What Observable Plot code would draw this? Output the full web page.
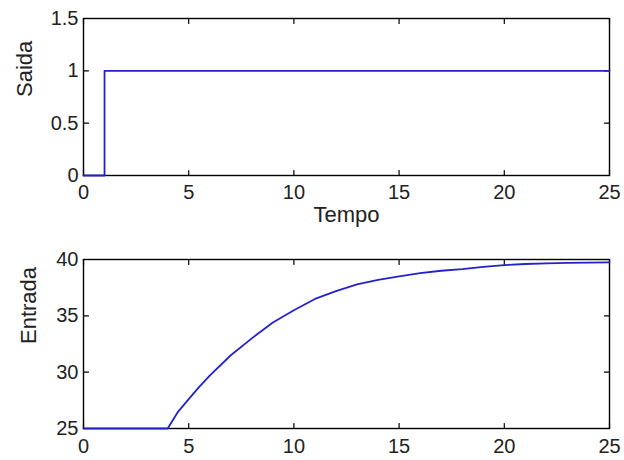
<!DOCTYPE html>
<html>
<head>
<meta charset="utf-8">
<script src="https://cdn.jsdelivr.net/npm/d3@7"></script>
<script src="https://cdn.jsdelivr.net/npm/@observablehq/plot@0.6"></script>
<style>
  html, body { margin: 0; padding: 0; background: #fff; }
  svg { display: block; }
</style>
</head>
<body>
<div id="chart"></div>
<script>
// ---- data ----
const xTicks = [0, 5, 10, 15, 20, 25];
const xTickLabels = ["0", "5", "10", "15", "20", "25"];

const saidaT = [0, 1, 1, 25];
const saidaV = [0, 0, 1, 1];
const saidaTicks = [0, 0.5, 1, 1.5];
const saidaTickLabels = ["0", "0.5", "1", "1.5"];

const entradaT = [0, 4, 4.5, 5, 5.5, 6, 7, 8, 9, 10, 11, 12, 13, 14, 15, 16, 17, 18, 19, 20, 21, 22, 23, 24, 25];
const entradaV = [25, 25, 26.5, 27.6, 28.7, 29.7, 31.5, 33.0, 34.4, 35.5, 36.5, 37.2, 37.8, 38.2, 38.5, 38.8, 39.0, 39.15, 39.35, 39.5, 39.6, 39.65, 39.7, 39.72, 39.75];
const entradaTicks = [25, 30, 35, 40];
const entradaTickLabels = ["25", "30", "35", "40"];

// ---- style ----
const FONT = "'Liberation Sans', Arial, Helvetica, sans-serif";
const LINE = "#2222cc";
const tickShape = { draw(ctx, l) { ctx.moveTo(0, 0); ctx.lineTo(0, -l); } };

function fmt(ticks, labels) {
  return d => labels[ticks.indexOf(d)] ?? String(d);
}

function panel({T, V, yDomain, yTicks, yLabels, yLabel, labelDx, xLabel, height, mt, mb, xPad}) {
  const yMin = yDomain[0], yMax = yDomain[1];
  const marks = [
    Plot.frame({stroke: "black", strokeWidth: 1.4}),
    // inward ticks
    Plot.vector(xTicks, {x: d => d, y: yMin, length: 5, rotate: 0, anchor: "start", shape: tickShape, stroke: "black", strokeWidth: 1.2}),
    Plot.vector(xTicks, {x: d => d, y: yMax, length: 5, rotate: 180, anchor: "start", shape: tickShape, stroke: "black", strokeWidth: 1.2}),
    Plot.vector(yTicks, {x: 0, y: d => d, length: 5, rotate: 90, anchor: "start", shape: tickShape, stroke: "black", strokeWidth: 1.2}),
    Plot.vector(yTicks, {x: 25, y: d => d, length: 5, rotate: -90, anchor: "start", shape: tickShape, stroke: "black", strokeWidth: 1.2}),
    Plot.axisX(xTicks, {tickSize: 0, tickPadding: xPad, fontSize: 20, tickFormat: fmt(xTicks, xTickLabels), label: null, fill: "#222"}),
    Plot.axisY(yTicks, {tickSize: 0, tickPadding: 5, fontSize: 20, tickFormat: fmt(yTicks, yLabels), label: null, fill: "#222"}),
    Plot.text([yLabel], {frameAnchor: "left", dx: labelDx, rotate: -90, fontSize: 22, fill: "#222", text: d => d}),
    Plot.line(T.map((t, i) => ({t, v: V[i]})), {x: "t", y: "v", stroke: LINE, strokeWidth: 1.8})
  ];
  if (xLabel) marks.push(Plot.text([xLabel], {frameAnchor: "bottom", dy: 46, fontSize: 22, fill: "#222", text: d => d}));
  return Plot.plot({
    width: 624,
    height,
    marginLeft: 83,
    marginRight: 15,
    marginTop: mt,
    marginBottom: mb,
    style: {fontFamily: FONT, background: "#fff", color: "#222"},
    x: {domain: [0, 25]},
    y: {domain: yDomain},
    marks
  });
}

const topPanel = panel({T: saidaT, V: saidaV, yDomain: [0, 1.5], yTicks: saidaTicks, yLabels: saidaTickLabels,
  yLabel: "Saida", labelDx: -59, xLabel: "Tempo", height: 240, mt: 18, mb: 65, xPad: 9});
const bottomPanel = panel({T: entradaT, V: entradaV, yDomain: [25, 40], yTicks: entradaTicks, yLabels: entradaTickLabels,
  yLabel: "Entrada", labelDx: -55, xLabel: null, height: 220, mt: 19, mb: 32, xPad: 10});

const el = document.getElementById("chart");
el.appendChild(topPanel);
el.appendChild(bottomPanel);
</script>
</body>
</html>
